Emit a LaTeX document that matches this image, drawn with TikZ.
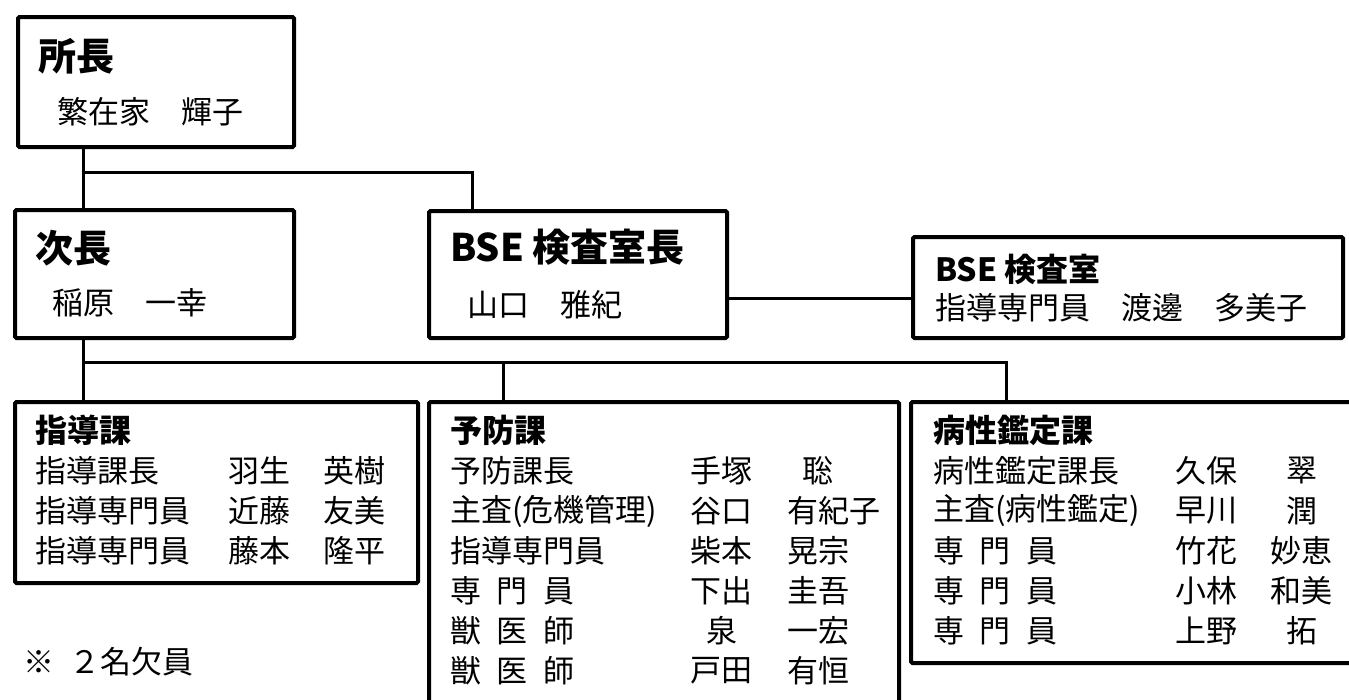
\documentclass[tikz,border=0pt]{standalone}
\usepackage{fontspec}
\setmainfont{Noto Sans CJK JP}
\newcommand\hs{\hspace{0.5em}}
\tikzset{
  box/.style={draw, line width=4pt, rounded corners=1.5pt, inner sep=0pt, anchor=north west},
  conn/.style={line width=3pt},
  txt/.style={anchor=west, inner sep=0pt, font=\fontsize{31}{31}\selectfont},
  bigttl/.style={anchor=west, inner sep=0pt, font=\fontsize{38}{38}\selectfont\bfseries},
  ttl/.style={anchor=west, inner sep=0pt, font=\fontsize{32}{32}\selectfont\bfseries}
}
\begin{document}
\begin{tikzpicture}[x=1pt,y=-1pt]
\useasboundingbox (0,0) rectangle (1349,699);
\clip (0,0) rectangle (1349,699);
\fill[white] (0,0) rectangle (1349,699);
% boxes
\node[box, minimum width=276pt, minimum height=130pt] (sho) at (16,15) {};
\node[box, minimum width=279pt, minimum height=128pt] (ji) at (13,208) {};
\node[box, minimum width=298pt, minimum height=127pt] (bseC) at (427,209) {};
\node[box, minimum width=430pt, minimum height=101pt] (bseR) at (911,235) {};
\node[box, minimum width=403pt, minimum height=181pt] (shido) at (13,400) {};
\node[box, minimum width=470pt, minimum height=320pt] (yobo) at (427,400) {};
\node[box, minimum width=460pt, minimum height=261pt] (byo) at (909,400) {};
% connectors
\coordinate (k1) at (83,172);
\coordinate (k2) at (472,172);
\coordinate (k3) at (0,298);
\coordinate (b1) at (83,362);
\coordinate (b2) at (503,362);
\coordinate (b3) at (1006,362);
\draw[conn] (sho.south -| k1) -- (ji.north -| k1);
\draw[conn] (k1) -- (k2) -- (k2 |- bseC.north);
\draw[conn] (bseC.east |- k3) -- (bseR.west |- k3);
\draw[conn] (ji.south -| b1) -- (b1 |- shido.north);
\draw[conn] (b1) -- (b3) -- (b3 |- byo.north);
\draw[conn] (b2) -- (b2 |- yobo.north);
% top texts
\node[bigttl] (t1) at (38,56) {所長};
\node[txt] (t1n) at (57,112) {繁在家　輝子};
\node[bigttl] (t2) at (35,248) {次長};
\node[txt] (t2n) at (52,303) {稲原　一幸};
\node[bigttl] (t3) at (450,247) {BSE 検査室長};
\node[txt] (t3n) at (467,305) {山口　雅紀};
\node[ttl] (t4) at (935,269) {BSE 検査室};
\node[txt] (t4n) at (935,308) {指導専門員　渡邊　多美子};
% 指導課
\node[ttl] (s0) at (35,430) {指導課};
\node[txt] (s1a) at (35,471) {指導課長};
\node[txt] (s1b) at (228,471) {羽生};
\node[txt] (s1c) at (323,471) {英樹};
\node[txt] (s2a) at (35,511) {指導専門員};
\node[txt] (s2b) at (228,511) {近藤};
\node[txt] (s2c) at (323,511) {友美};
\node[txt] (s3a) at (35,551) {指導専門員};
\node[txt] (s3b) at (228,551) {藤本};
\node[txt] (s3c) at (323,551) {隆平};
\node[txt] (note) at (23,662) {※\hs ２名欠員};
% 予防課
\node[ttl] (y0) at (450,430) {予防課};
\node[txt] (y1a) at (450,471) {予防課長};
\node[txt] (y1b) at (690,471) {手塚};
\node[txt] (y1c) at (802,471) {聡};
\node[txt] (y2a) at (450,511) {主査(危機管理)};
\node[txt] (y2b) at (690,511) {谷口};
\node[txt] (y2c) at (787,511) {有紀子};
\node[txt] (y3a) at (450,551) {指導専門員};
\node[txt] (y3b) at (690,551) {柴本};
\node[txt] (y3c) at (787,551) {晃宗};
\node[txt] (y4a) at (450,591) {専\hs 門\hs 員};
\node[txt] (y4b) at (690,591) {下出};
\node[txt] (y4c) at (787,591) {圭吾};
\node[txt] (y5a) at (450,631) {獣\hs 医\hs 師};
\node[txt] (y5b) at (706,631) {泉};
\node[txt] (y5c) at (787,631) {一宏};
\node[txt] (y6a) at (450,671) {獣\hs 医\hs 師};
\node[txt] (y6b) at (690,671) {戸田};
\node[txt] (y6c) at (787,671) {有恒};
% 病性鑑定課
\node[ttl] (h0) at (933,430) {病性鑑定課};
\node[txt] (h1a) at (933,471) {病性鑑定課長};
\node[txt] (h1b) at (1175,471) {久保};
\node[txt] (h1c) at (1286,471) {翠};
\node[txt] (h2a) at (933,511) {主査(病性鑑定)};
\node[txt] (h2b) at (1175,511) {早川};
\node[txt] (h2c) at (1286,511) {潤};
\node[txt] (h3a) at (933,551) {専\hs 門\hs 員};
\node[txt] (h3b) at (1175,551) {竹花};
\node[txt] (h3c) at (1270,551) {妙恵};
\node[txt] (h4a) at (933,591) {専\hs 門\hs 員};
\node[txt] (h4b) at (1175,591) {小林};
\node[txt] (h4c) at (1270,591) {和美};
\node[txt] (h5a) at (933,631) {専\hs 門\hs 員};
\node[txt] (h5b) at (1175,631) {上野};
\node[txt] (h5c) at (1286,631) {拓};
\end{tikzpicture}
\end{document}
